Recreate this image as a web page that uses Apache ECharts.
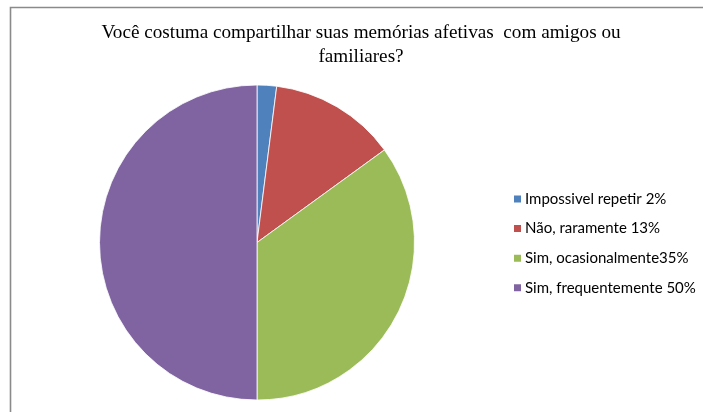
<!DOCTYPE html>
<html><head><meta charset="utf-8">
<script src="https://cdn.jsdelivr.net/npm/echarts@6/dist/echarts.min.js"></script>
<style>html,body{margin:0;padding:0;background:#fff}#c{width:703px;height:412px}</style>
</head><body><div id="c"></div>
<script>
const titleLines = ['Você costuma compartilhar suas memórias afetivas  com amigos ou', 'familiares?'];
const categories = ['Impossivel repetir 2%', 'Não, raramente 13%', 'Sim, ocasionalmente35%', 'Sim, frequentemente 50%'];
const values = [2, 13, 35, 50];
const colors = ['#4F81BD', '#C0504D', '#9BBB59', '#8064A2'];

const chart = echarts.init(document.getElementById('c'));
chart.setOption({
  animation: false,
  color: colors,
  graphic: [
    {type: 'rect', shape: {x: 10.5, y: 7.5, width: 900, height: 600}, style: {fill: 'none', stroke: '#8a8a8a', lineWidth: 1.6}, silent: true},
    {type: 'text', x: 361, y: 33, style: {text: titleLines[0], font: '19.2px "Liberation Serif", "Times New Roman", serif', fill: '#000', textAlign: 'center', textVerticalAlign: 'middle'}},
    {type: 'text', x: 361, y: 57, style: {text: titleLines[1], font: '19.2px "Liberation Serif", "Times New Roman", serif', fill: '#000', textAlign: 'center', textVerticalAlign: 'middle'}}
  ],
  legend: {
    orient: 'vertical', left: 507, top: 185,
    itemWidth: 9, itemHeight: 9, itemGap: 11.6, icon: 'rect',
    textStyle: {fontFamily: 'Lato, "Open Sans", sans-serif', fontSize: 15, color: '#000', lineHeight: 18, padding: [0, 0, 0, -2]},
    data: categories
  },
  series: [{
    type: 'pie', center: [257, 242.5], radius: 157.5, startAngle: 90, clockwise: true,
    label: {show: false}, labelLine: {show: false},
    itemStyle: {borderColor: '#fff', borderWidth: 0.8},
    emphasis: {disabled: true},
    data: categories.map((n, i) => ({name: n, value: values[i]}))
  }]
});
</script></body></html>
